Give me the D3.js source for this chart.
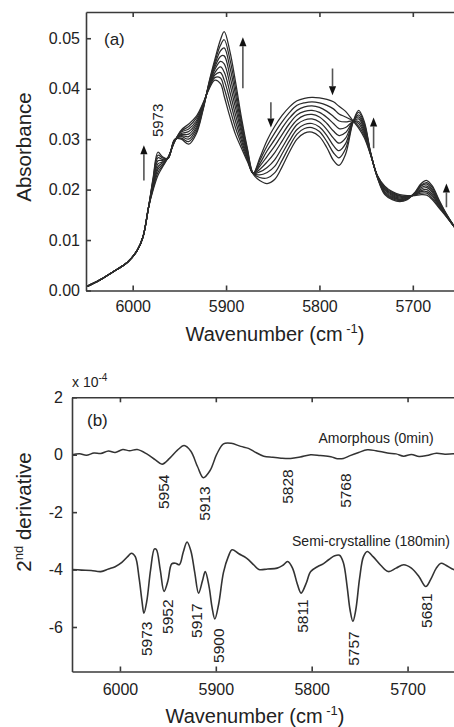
<!DOCTYPE html>
<html><head><meta charset="utf-8">
<script src="https://cdn.jsdelivr.net/npm/d3@7"></script>
<style>
html,body{margin:0;padding:0;background:#fff;}
svg{display:block;font-family:"Liberation Sans",Arial,Helvetica,sans-serif;}
</style></head><body>
<svg id="fig" width="454" height="727"></svg>
<script>
// ---------- Panel (a): absorbance spectra recorded during crystallisation ----------
const wavenumbersA = [6050,6035,6020,6005,5995,5989,5983,5978,5973,5968,5962,5955,5948,5940,5932,5925,5918,5912,5906,5902,5896,5890,5883,5877,5871,5864,5856,5848,5840,5832,5824,5816,5808,5800,5792,5785,5779,5772,5764,5758,5752,5745,5738,5730,5722,5714,5706,5698,5691,5685,5679,5672,5664,5656,5648];

const scan1 = [0.0007,0.0021,0.0038,0.0057,0.0080,0.0106,0.0165,0.0200,0.0228,0.0245,0.0264,0.0295,0.0318,0.0330,0.0345,0.0370,0.0400,0.0417,0.0410,0.0385,0.0345,0.0310,0.0280,0.0255,0.0232,0.0262,0.0298,0.0325,0.0347,0.0364,0.0376,0.0381,0.0383,0.0382,0.0379,0.0374,0.0365,0.0355,0.0336,0.0322,0.0303,0.0268,0.0228,0.0207,0.0196,0.0190,0.0188,0.0188,0.0190,0.0189,0.0180,0.0164,0.0146,0.0127,0.0108];
const scan2 = [0.0007,0.0021,0.0038,0.0057,0.0080,0.0106,0.0165,0.0203,0.0234,0.0247,0.0264,0.0296,0.0316,0.0325,0.0341,0.0368,0.0402,0.0422,0.0421,0.0401,0.0361,0.0323,0.0287,0.0258,0.0232,0.0257,0.0287,0.0312,0.0334,0.0353,0.0367,0.0372,0.0374,0.0372,0.0367,0.0360,0.0350,0.0344,0.0336,0.0326,0.0307,0.0268,0.0228,0.0205,0.0194,0.0188,0.0187,0.0189,0.0193,0.0193,0.0183,0.0166,0.0147,0.0127,0.0108];
const scan3 = [0.0007,0.0021,0.0038,0.0057,0.0080,0.0106,0.0165,0.0206,0.0240,0.0250,0.0264,0.0296,0.0314,0.0320,0.0336,0.0366,0.0404,0.0427,0.0432,0.0417,0.0378,0.0336,0.0294,0.0261,0.0232,0.0251,0.0277,0.0299,0.0322,0.0342,0.0357,0.0364,0.0366,0.0363,0.0355,0.0345,0.0336,0.0334,0.0336,0.0331,0.0311,0.0269,0.0227,0.0203,0.0192,0.0187,0.0186,0.0190,0.0196,0.0196,0.0187,0.0168,0.0148,0.0127,0.0108];
const scan4 = [0.0007,0.0021,0.0038,0.0057,0.0080,0.0106,0.0165,0.0209,0.0245,0.0253,0.0263,0.0297,0.0311,0.0315,0.0332,0.0364,0.0406,0.0432,0.0443,0.0433,0.0394,0.0349,0.0301,0.0264,0.0232,0.0246,0.0266,0.0286,0.0309,0.0331,0.0348,0.0355,0.0357,0.0353,0.0343,0.0331,0.0321,0.0323,0.0335,0.0335,0.0315,0.0269,0.0227,0.0201,0.0190,0.0185,0.0185,0.0190,0.0198,0.0200,0.0190,0.0170,0.0148,0.0127,0.0108];
const scan5 = [0.0007,0.0021,0.0038,0.0057,0.0080,0.0106,0.0165,0.0213,0.0251,0.0255,0.0263,0.0298,0.0309,0.0310,0.0328,0.0363,0.0408,0.0438,0.0454,0.0449,0.0410,0.0363,0.0309,0.0268,0.0232,0.0240,0.0255,0.0273,0.0296,0.0320,0.0338,0.0347,0.0349,0.0344,0.0331,0.0316,0.0307,0.0313,0.0335,0.0340,0.0319,0.0270,0.0226,0.0199,0.0188,0.0183,0.0184,0.0191,0.0201,0.0204,0.0194,0.0172,0.0149,0.0128,0.0108];
const scan6 = [0.0007,0.0021,0.0038,0.0057,0.0080,0.0106,0.0165,0.0216,0.0257,0.0258,0.0263,0.0298,0.0307,0.0305,0.0323,0.0361,0.0409,0.0443,0.0464,0.0465,0.0426,0.0376,0.0316,0.0271,0.0232,0.0235,0.0244,0.0259,0.0283,0.0308,0.0329,0.0338,0.0340,0.0334,0.0319,0.0302,0.0292,0.0302,0.0335,0.0344,0.0323,0.0270,0.0226,0.0196,0.0186,0.0181,0.0183,0.0192,0.0204,0.0207,0.0197,0.0174,0.0150,0.0128,0.0108];
const scan7 = [0.0007,0.0021,0.0038,0.0057,0.0080,0.0106,0.0165,0.0219,0.0263,0.0260,0.0263,0.0299,0.0305,0.0300,0.0319,0.0359,0.0411,0.0448,0.0475,0.0481,0.0443,0.0389,0.0323,0.0274,0.0232,0.0229,0.0234,0.0246,0.0271,0.0297,0.0319,0.0329,0.0331,0.0324,0.0307,0.0287,0.0277,0.0291,0.0335,0.0348,0.0327,0.0271,0.0225,0.0194,0.0184,0.0180,0.0182,0.0193,0.0207,0.0211,0.0200,0.0176,0.0150,0.0128,0.0108];
const scan8 = [0.0007,0.0021,0.0038,0.0057,0.0080,0.0106,0.0165,0.0222,0.0268,0.0263,0.0262,0.0299,0.0302,0.0295,0.0314,0.0357,0.0413,0.0453,0.0486,0.0497,0.0459,0.0402,0.0330,0.0277,0.0232,0.0224,0.0223,0.0233,0.0258,0.0286,0.0310,0.0321,0.0323,0.0315,0.0295,0.0273,0.0263,0.0281,0.0334,0.0353,0.0331,0.0271,0.0225,0.0192,0.0182,0.0178,0.0181,0.0193,0.0209,0.0214,0.0204,0.0178,0.0151,0.0128,0.0108];
const scan9 = [0.0007,0.0021,0.0038,0.0057,0.0080,0.0106,0.0165,0.0225,0.0274,0.0265,0.0262,0.0300,0.0300,0.0290,0.0310,0.0355,0.0415,0.0458,0.0497,0.0513,0.0475,0.0415,0.0337,0.0280,0.0231,0.0218,0.0212,0.0220,0.0245,0.0275,0.0300,0.0312,0.0314,0.0305,0.0283,0.0258,0.0248,0.0270,0.0334,0.0357,0.0335,0.0272,0.0224,0.0190,0.0180,0.0176,0.0180,0.0194,0.0212,0.0218,0.0207,0.0180,0.0152,0.0128,0.0108];
const scans = [scan1,scan2,scan3,scan4,scan5,scan6,scan7,scan8,scan9];

const ticksAx = [6000,5900,5800,5700];
const ticksAy = [0,0.01,0.02,0.03,0.04,0.05];

// Arrows showing the direction of change with time (wavenumber, from, to)
const arrowWn   = [5988,5882,5852,5786,5742,5664];
const arrowFrom = [0.0218,0.0401,0.0373,0.0440,0.0282,0.0165];
const arrowTo   = [0.0288,0.0502,0.0323,0.0387,0.0343,0.0212];

// ---------- Panel (b): second-derivative spectra (x 10^-4) ----------
const wavenumbersAmorphous = [6050,6042,6035,6027,6020,6012,6005,5997,5990,5982,5972,5963,5956,5948,5940,5933,5926,5919,5913,5906,5899,5892,5884,5874,5866,5860,5850,5841,5832,5822,5812,5801,5791,5780,5773,5767,5760,5751,5742,5733,5721,5712,5704,5696,5688,5680,5670,5661,5652,5648];
const amorphous = [0.00,0.03,-0.02,0.06,0.04,0.13,0.08,0.18,0.14,0.18,0.03,-0.18,-0.33,-0.12,0.16,0.32,0.12,-0.42,-0.80,-0.55,0.02,0.38,0.40,0.29,0.22,0.11,-0.05,-0.09,-0.12,-0.13,-0.08,0.00,-0.03,-0.07,-0.14,-0.13,-0.03,0.08,0.17,0.14,0.06,0.03,-0.05,0.01,-0.06,-0.03,0.05,0.02,0.03,0.02];

const wavenumbersSemi = [6050,6040,6030,6020,6012,6005,5998,5992,5988,5984,5980,5977,5975,5972,5968,5964,5962,5958,5954,5950,5946,5942,5938,5934,5930,5926,5922,5918,5914,5911,5907,5904,5901,5897,5892,5887,5883,5876,5868,5860,5855,5846,5836,5830,5825,5820,5815,5811,5806,5801,5794,5788,5782,5776,5771,5767,5763,5760,5757,5754,5750,5746,5742,5736,5728,5720,5712,5704,5696,5688,5681,5676,5670,5665,5660,5652,5648];
const semiCrystalline = [-4.00,-4.02,-4.03,-4.07,-3.98,-3.90,-3.75,-3.55,-3.43,-3.55,-4.30,-5.10,-5.52,-5.10,-4.00,-3.28,-3.30,-4.00,-4.76,-4.40,-3.80,-3.78,-3.83,-3.40,-3.04,-3.35,-4.10,-4.82,-4.40,-4.07,-4.60,-5.30,-5.72,-5.20,-4.10,-3.55,-3.31,-3.45,-3.60,-3.85,-4.00,-3.98,-3.95,-3.85,-3.72,-3.95,-4.50,-4.82,-4.50,-4.07,-3.90,-3.80,-3.65,-3.52,-3.50,-3.75,-4.60,-5.40,-5.80,-5.40,-4.30,-3.55,-3.37,-3.55,-3.85,-4.07,-3.95,-3.83,-3.95,-4.25,-4.59,-4.35,-3.95,-3.78,-3.85,-4.00,-4.02];

const ticksBx = [6000,5900,5800,5700];
const ticksBy = [2,0,-2,-4,-6];

// Peak labels: text, wavenumber, upper end (in derivative units)
const amorphousPeaks    = ["5954","5913","5828","5768"];
const amorphousPeakWn   = [5955,5912,5825,5765];
const amorphousPeakTop  = [-0.69,-1.10,-0.51,-0.65];
const semiPeaks   = ["5973","5952","5917","5900","5811","5757","5681"];
const semiPeakWn  = [5972,5950,5920,5897,5810,5757,5680];
const semiPeakTop = [-5.81,-5.04,-5.18,-6.05,-5.04,-6.15,-4.83];

// ---------- drawing ----------
const svg = d3.select("#fig");
const ink = "#222";
const axisColor = "#3a3a3a";

function frameAxes(g, x, y, xt, yt, fmtY, padY, padX) {
  const [x0, x1] = x.range();
  const [y0, y1] = y.range();
  g.append("g").attr("transform", `translate(0,${y0})`)
    .call(d3.axisBottom(x).tickValues(xt).tickSizeInner(-5).tickSizeOuter(0).tickPadding(padX).tickFormat(d3.format("d")));
  g.append("g").attr("transform", `translate(0,${y1})`)
    .call(d3.axisTop(x).tickValues(xt).tickSizeInner(-5).tickSizeOuter(0).tickFormat(""));
  g.append("g").attr("transform", `translate(${x0},0)`)
    .call(d3.axisLeft(y).tickValues(yt).tickSizeInner(-5).tickSizeOuter(0).tickPadding(padY).tickFormat(fmtY));
  g.append("line").attr("x1", x1).attr("x2", x1).attr("y1", y0).attr("y2", y1);
  g.selectAll(".domain, .tick line, line").attr("stroke", axisColor).attr("stroke-width", 1.6);
  g.selectAll(".tick text").attr("font-size", 16).attr("fill", ink)
    .attr("font-family", '"Liberation Sans",Arial,sans-serif');
}

// Panel (a)
const xA = d3.scaleLinear().domain([6050, 5650]).range([86, 459.5]);
const yA = d3.scaleLinear().domain([0, 0.0552]).range([290.5, 12]);

svg.append("clipPath").attr("id", "clipA").append("rect")
  .attr("x", 86).attr("y", 12).attr("width", 374).attr("height", 279);

const lineA = d3.line().curve(d3.curveCatmullRom.alpha(0.5))
  .x((d, i) => xA(wavenumbersA[i])).y(d => yA(d));

const gA = svg.append("g");
gA.append("g").attr("clip-path", "url(#clipA)")
  .selectAll("path").data(scans).join("path")
  .attr("d", lineA).attr("fill", "none")
  .attr("stroke", "#2b2b2b").attr("stroke-width", 1.25).attr("stroke-linejoin", "round");

frameAxes(gA.append("g"), xA, yA, ticksAx, ticksAy, d3.format(".2f"), 6, 10);

// arrows
arrowWn.forEach((wn, i) => {
  const px = xA(wn), ya = yA(arrowFrom[i]), yb = yA(arrowTo[i]);
  const dir = yb < ya ? -1 : 1;
  const headLen = 9, headW = 3.6;
  gA.append("line").attr("x1", px).attr("x2", px).attr("y1", ya).attr("y2", yb - dir * headLen)
    .attr("stroke", "#555").attr("stroke-width", 1.6);
  gA.append("path")
    .attr("d", `M${px},${yb} L${px - headW},${yb - dir * headLen} L${px + headW},${yb - dir * headLen} Z`)
    .attr("fill", "#111");
});

gA.append("text").attr("x", 104).attr("y", 45).attr("font-size", 17).attr("fill", ink).text("(a)");
gA.append("text")
  .attr("transform", `translate(${xA(5973)},${yA(0.0304)}) rotate(-90)`)
  .attr("dy", "0.36em").attr("font-size", 15).attr("fill", ink).text("5973");

gA.append("text")
  .attr("transform", "translate(24,147) rotate(-90)")
  .attr("text-anchor", "middle").attr("dy", "0.36em").attr("font-size", 20.5).attr("fill", ink)
  .text("Absorbance");

function wavenumberTitle(g, cx, y) {
  const t = g.append("text").attr("x", cx).attr("y", y).attr("text-anchor", "middle")
    .attr("font-size", 20).attr("fill", ink);
  t.append("tspan").text("Wavenumber (cm");
  t.append("tspan").attr("dy", -8).attr("font-size", 13).text(" -1");
  t.append("tspan").attr("dy", 8).text(")");
}
wavenumberTitle(gA, 275, 341);

// Panel (b)
const xB = d3.scaleLinear().domain([6050, 5650]).range([72, 455.5]);
const yB = d3.scaleLinear().domain([-7.55, 2]).range([671.5, 397.3]);

svg.append("clipPath").attr("id", "clipB").append("rect")
  .attr("x", 72).attr("y", 397).attr("width", 384).attr("height", 275);

const gB = svg.append("g");
const lineAm = d3.line().curve(d3.curveCatmullRom.alpha(0.5))
  .x((d, i) => xB(wavenumbersAmorphous[i])).y(d => yB(d));
const lineSc = d3.line().curve(d3.curveCatmullRom.alpha(0.5))
  .x((d, i) => xB(wavenumbersSemi[i])).y(d => yB(d));
const gCurves = gB.append("g").attr("clip-path", "url(#clipB)");
gCurves.append("path").attr("d", lineAm(amorphous)).attr("fill", "none")
  .attr("stroke", "#333").attr("stroke-width", 1.5);
gCurves.append("path").attr("d", lineSc(semiCrystalline)).attr("fill", "none")
  .attr("stroke", "#333").attr("stroke-width", 1.6);

frameAxes(gB.append("g"), xB, yB, ticksBx, ticksBy, d => String(d), 9, 12);

function peakLabels(txt, wn, top) {
  gB.selectAll(null).data(txt).join("text")
    .attr("transform", (d, i) => `translate(${xB(wn[i])},${yB(top[i])}) rotate(-90)`)
    .attr("text-anchor", "end").attr("dy", "0.36em")
    .attr("font-size", 15.5).attr("fill", ink).text(d => d);
}
peakLabels(amorphousPeaks, amorphousPeakWn, amorphousPeakTop);
peakLabels(semiPeaks, semiPeakWn, semiPeakTop);

gB.append("text").attr("x", 376).attr("y", 443).attr("text-anchor", "middle")
  .attr("font-size", 14).attr("fill", ink).text("Amorphous (0min)");
gB.append("text").attr("x", 371).attr("y", 546).attr("text-anchor", "middle")
  .attr("font-size", 14).attr("fill", ink).text("Semi-crystalline (180min)");

gB.append("text").attr("x", 87).attr("y", 426).attr("font-size", 17).attr("fill", ink).text("(b)");

const mult = gB.append("text").attr("x", 72).attr("y", 387).attr("font-size", 14).attr("fill", ink);
mult.append("tspan").text("x 10");
mult.append("tspan").attr("dy", -6).attr("font-size", 10).text("-4");

const dl = gB.append("text")
  .attr("transform", "translate(24,512) rotate(-90)")
  .attr("text-anchor", "middle").attr("dy", "0.36em").attr("font-size", 20.5).attr("fill", ink);
dl.append("tspan").text("2");
dl.append("tspan").attr("dy", -8).attr("font-size", 13).text("nd");
dl.append("tspan").attr("dy", 8).text(" derivative");

wavenumberTitle(gB, 255, 723);
</script>
</body></html>
